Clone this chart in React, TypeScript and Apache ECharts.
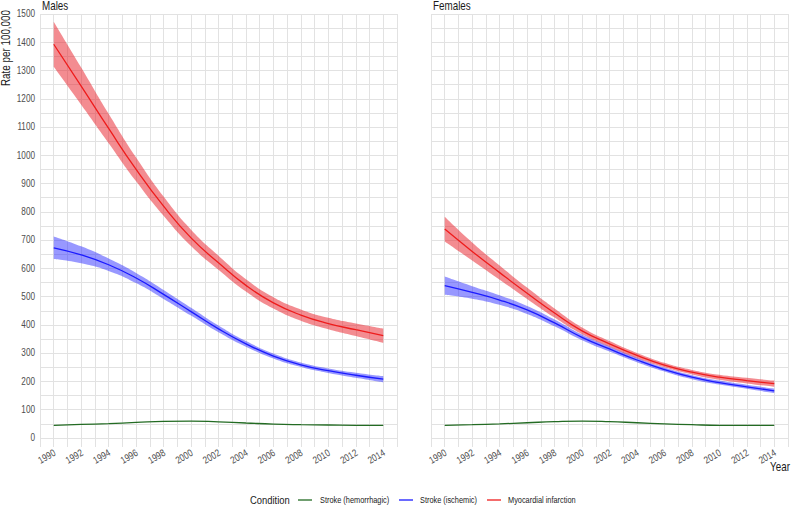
import { useEffect, useRef } from 'react';
import * as echarts from 'echarts';

const years = [1990, 1992, 1994, 1996, 1998, 2000, 2002, 2004, 2006, 2008, 2010, 2012, 2014];
const xTickLabels = [1990, 1992, 1994, 1996, 1998, 2000, 2002, 2004, 2006, 2008, 2010, 2012, 2014];
const yTickLabels = [0, 100, 200, 300, 400, 500, 600, 700, 800, 900, 1000, 1100, 1200, 1300, 1400, 1500];

const maleMI = [1393, 1245, 1095, 950, 820, 708, 620, 540, 478, 435, 405, 383, 362];
const maleMILo = [1313, 1179, 1043, 908, 786, 679, 595, 518, 458, 415, 385, 361, 337];
const maleMIHi = [1473, 1311, 1147, 992, 854, 737, 645, 562, 498, 455, 425, 405, 387];

const maleIS = [673, 648, 613, 566, 508, 447, 386, 333, 290, 259, 238, 222, 208];
const maleISLo = [633, 618, 591, 548, 492, 433, 374, 323, 281, 251, 230, 213, 197];
const maleISHi = [713, 678, 635, 584, 524, 461, 398, 343, 299, 267, 246, 231, 219];

const maleHS = [45, 48, 51, 55, 59, 60, 57, 53, 49, 47, 46, 45, 45];

const femaleMI = [739, 660, 585, 512, 442, 379, 333, 292, 258, 233, 215, 203, 192];
const femaleMILo = [695, 628, 560, 492, 426, 367, 323, 283, 250, 225, 206, 193, 181];
const femaleMIHi = [783, 692, 610, 532, 458, 391, 343, 301, 266, 241, 224, 213, 203];

const femaleIS = [539, 515, 488, 453, 407, 356, 315, 276, 242, 215, 196, 181, 167];
const femaleISLo = [507, 493, 471, 439, 395, 346, 306, 268, 235, 208, 189, 174, 159];
const femaleISHi = [571, 537, 505, 467, 419, 366, 324, 284, 249, 222, 203, 188, 175];

const femaleHS = [45, 47, 50, 54, 58, 60, 58, 54, 50, 47, 45, 45, 45];

const conditions = ['Stroke (hemorrhagic)', 'Stroke (ischemic)', 'Myocardial infarction'];
const panels = ['Males', 'Females'];

const FONT = "'Liberation Sans', Arial, sans-serif";
const NARROW = 0.82;
const GREEN = '#236b23';
const BLUE = '#1a1aff';
const RED = '#ee1c1c';
const BLUE_BAND = 'rgba(40,40,255,0.48)';
const RED_BAND = 'rgba(232,25,35,0.5)';
const GRID = '#e2e2e2';
const TICK_COLOR = '#4d4d4d';
const TITLE_COLOR = '#1a1a1a';

// data stored as [value, year] and encoded so that stacking happens on the value (y) dimension
const pairs = (vals: number[]) => years.map((y, i) => [vals[i], y]);
const diffPairs = (hi: number[], lo: number[]) => years.map((y, i) => [hi[i] - lo[i], y]);
const ENC = { x: 1, y: 0 };

function bandSeries(idx: number, key: string, lo: number[], hi: number[], color: string) {
  return [
    {
      type: 'line', xAxisIndex: idx, yAxisIndex: idx, stack: key, data: pairs(lo), encode: ENC,
      smooth: true, symbol: 'none', lineStyle: { opacity: 0, width: 0 }, silent: true, z: 1,
    },
    {
      type: 'line', xAxisIndex: idx, yAxisIndex: idx, stack: key, data: diffPairs(hi, lo), encode: ENC,
      smooth: true, symbol: 'none', lineStyle: { opacity: 0, width: 0 }, areaStyle: { color, opacity: 1 },
      silent: true, z: 1,
    },
  ];
}

function lineSeries(idx: number, name: string, vals: number[], color: string) {
  return {
    type: 'line', name, xAxisIndex: idx, yAxisIndex: idx, data: pairs(vals), encode: ENC, smooth: true,
    symbol: 'none', lineStyle: { color, width: 1.3 }, z: 3,
  };
}

export default function App() {
  const ref = useRef<HTMLDivElement>(null);
  useEffect(() => {
    if (!ref.current) return;
    const chart = echarts.init(ref.current, undefined, { renderer: 'svg' });
    const xAxisBase = (gridIndex: number) => ({
      type: 'value', gridIndex, min: 1989, max: 2015, interval: 1,
      axisLine: { show: false }, axisTick: { show: false },
      splitLine: { show: true, lineStyle: { color: GRID, width: 1 } },
      axisLabel: { show: false },
    });
    const yAxisBase = (gridIndex: number) => ({
      type: 'value', gridIndex, min: 0, max: 1500, interval: 50,
      axisLine: { show: false }, axisTick: { show: false },
      splitLine: { show: true, lineStyle: { color: GRID, width: 1 } },
      axisLabel: { show: false },
    });
    // small strips below the zero line so the vertical grid runs down to the panel edge
    const yAxisStrip = (gridIndex: number) => ({
      type: 'value', gridIndex, min: 0, max: 1,
      axisLine: { show: false }, axisTick: { show: false },
      splitLine: { show: false }, axisLabel: { show: false },
    });

    const series: any[] = [
      ...bandSeries(0, 'm-is', maleISLo, maleISHi, BLUE_BAND),
      ...bandSeries(0, 'm-mi', maleMILo, maleMIHi, RED_BAND),
      lineSeries(0, conditions[0], maleHS, GREEN),
      lineSeries(0, conditions[1], maleIS, BLUE),
      lineSeries(0, conditions[2], maleMI, RED),
      ...bandSeries(1, 'f-is', femaleISLo, femaleISHi, BLUE_BAND),
      ...bandSeries(1, 'f-mi', femaleMILo, femaleMIHi, RED_BAND),
      lineSeries(1, conditions[0], femaleHS, GREEN),
      lineSeries(1, conditions[1], femaleIS, BLUE),
      lineSeries(1, conditions[2], femaleMI, RED),
    ];

    chart.setOption({
      animation: false,
      backgroundColor: '#ffffff',
      grid: [
        { left: 40, top: 14, width: 357, height: 424 },
        { left: 431, top: 14, width: 357, height: 424 },
        { left: 40, top: 438, width: 357, height: 9 },
        { left: 431, top: 438, width: 357, height: 9 },
      ],
      xAxis: [xAxisBase(0), xAxisBase(1), xAxisBase(2), xAxisBase(3)],
      yAxis: [yAxisBase(0), yAxisBase(1), yAxisStrip(2), yAxisStrip(3)],
      series,
    });

    const txt = (x: number, y: number, text: string, size: number, fill: string, align: string, vAlign: string, rotation = 0) => ({
      type: 'text', x, y, rotation, scaleX: NARROW, silent: true,
      style: { text, font: `${size}px ${FONT}`, fill, align, verticalAlign: vAlign },
    });

    const graphic: any[] = [];
    // tick labels, positioned through the axes' own scales
    const y0 = chart.convertToPixel({ yAxisIndex: 0 }, 0) as number;
    const gridLeft0 = chart.convertToPixel({ xAxisIndex: 0 }, 1989) as number;
    yTickLabels.forEach((v) => {
      const py = chart.convertToPixel({ yAxisIndex: 0 }, v) as number;
      graphic.push(txt(gridLeft0 - 5, py, String(v), 10, TICK_COLOR, 'right', 'middle'));
    });
    [0, 1].forEach((gi) => {
      xTickLabels.forEach((yr) => {
        const px = chart.convertToPixel({ xAxisIndex: gi }, yr) as number;
        graphic.push(txt(px + 1, y0 + 14, String(yr), 10, TICK_COLOR, 'right', 'middle', Math.PI / 6));
      });
    });

    // panel strips and axis titles
    graphic.push(txt(42, 6, panels[0], 12, TITLE_COLOR, 'left', 'middle'));
    graphic.push(txt(433, 6, panels[1], 12, TITLE_COLOR, 'left', 'middle'));
    graphic.push(txt(6, 48, 'Rate per 100,000', 12, TITLE_COLOR, 'center', 'middle', Math.PI / 2));
    graphic.push(txt(790, 467, 'Year', 12, TITLE_COLOR, 'right', 'middle'));

    // legend
    const legendY = 500;
    graphic.push(txt(250, legendY, 'Condition', 11.5, TITLE_COLOR, 'left', 'middle'));
    const legendItems = [
      { x1: 298, x2: 312, tx: 320, color: GREEN, label: conditions[0] },
      { x1: 399, x2: 413, tx: 420, color: BLUE, label: conditions[1] },
      { x1: 487, x2: 501, tx: 508, color: RED, label: conditions[2] },
    ];
    legendItems.forEach((it) => {
      graphic.push({
        type: 'line', silent: true, shape: { x1: it.x1, y1: legendY, x2: it.x2, y2: legendY },
        style: { stroke: it.color, lineWidth: 1.3 },
      });
      graphic.push(txt(it.tx, legendY, it.label, 9, TITLE_COLOR, 'left', 'middle'));
    });

    chart.setOption({ graphic });
    return () => chart.dispose();
  }, []);
  return (
    <div
      ref={ref}
      style={{ position: 'fixed', left: 0, top: 0, width: 796, height: 506, background: '#fff' }}
    />
  );
}
